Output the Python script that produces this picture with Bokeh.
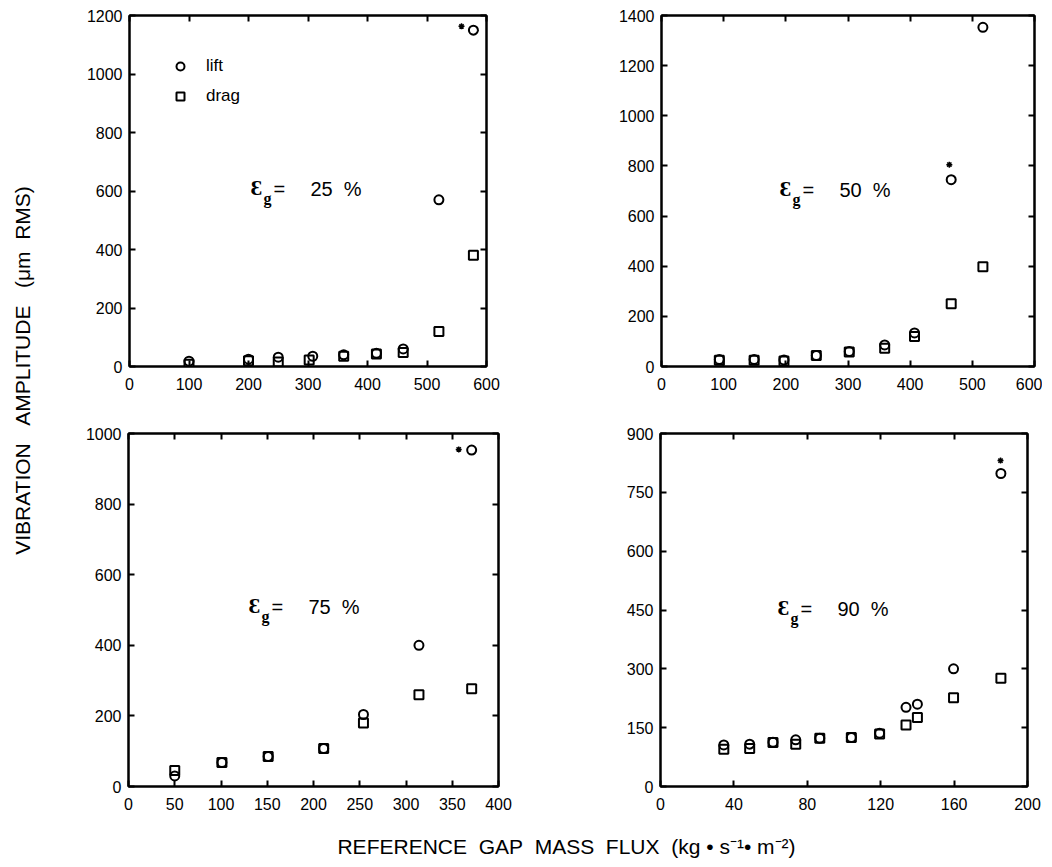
import math
from bokeh.plotting import figure
from bokeh.layouts import row, column
from bokeh.models import (Label, Legend, LegendItem, LinearAxis, FixedTicker,
                          CustomJSTickFormatter, Range1d)
from bokeh.embed import file_html
from bokeh.resources import INLINE

# ---------------- data ----------------
# void fraction 25 %
g25_flux_lift = [100, 200, 250, 308, 360, 415, 460, 520, 578]
g25_lift = [18, 25, 32, 35, 40, 45, 60, 570, 1150]
g25_flux_drag = [100, 200, 250, 302, 360, 415, 460, 520, 578]
g25_drag = [8, 20, 15, 22, 35, 43, 48, 120, 380]
g25_star_x = [558]
g25_star_y = [1163]

# void fraction 50 %
g50_flux = [93, 149, 197, 249, 302, 359, 407, 466, 517]
g50_lift = [28, 28, 26, 44, 60, 86, 134, 745, 1353]
g50_drag = [25, 25, 22, 44, 58, 73, 120, 250, 398]
g50_star_x = [463]
g50_star_y = [805]

# void fraction 75 %
g75_flux = [50, 101, 151, 211, 254, 314, 371]
g75_lift = [30, 68, 85, 108, 204, 400, 953]
g75_drag = [45, 68, 85, 108, 180, 260, 277]
g75_star_x = [357]
g75_star_y = [955]

# void fraction 90 %
g90_flux = [34.5, 48.6, 61.3, 73.7, 86.8, 104, 119.4, 133.8, 140, 159.7, 185.5]
g90_lift = [106, 108, 113, 119, 123, 125, 136, 202, 210, 300, 798]
g90_drag = [95, 97, 112, 108, 123, 125, 134, 157, 176, 226, 276]
g90_star_x = [185.3]
g90_star_y = [831]

x_ticks_25 = [0, 100, 200, 300, 400, 500, 600]
y_ticks_25 = [0, 200, 400, 600, 800, 1000, 1200]
x_ticks_50 = [0, 100, 200, 300, 400, 500, 600]
y_ticks_50 = [0, 200, 400, 600, 800, 1000, 1200, 1400]
x_ticks_75 = [0, 50, 100, 150, 200, 250, 300, 350, 400]
y_ticks_75 = [0, 200, 400, 600, 800, 1000]
x_ticks_90 = [0, 40, 80, 120, 160, 200]
y_ticks_90 = [0, 150, 300, 450, 600, 750, 900]

void_labels = ["25 %", "50 %", "75 %", "90 %"]

FONT = "Liberation Sans"
SERIF = "Liberation Serif"
NB = "\u00a0"


def style_axis(ax, ticks, show_labels, side):
    ax.ticker = FixedTicker(ticks=ticks)
    ax.axis_line_color = "black"
    ax.axis_line_width = 2
    ax.major_tick_in = 6
    ax.major_tick_out = 0
    ax.major_tick_line_width = 2
    ax.major_tick_line_color = "black"
    ax.minor_tick_line_color = None
    if show_labels:
        ax.major_label_text_font = FONT
        ax.major_label_text_font_size = "16px"
        ax.major_label_text_color = "black"
        ax.major_label_standoff = 11 if side == "x" else 7
    else:
        ax.formatter = CustomJSTickFormatter(code="return ''")
        ax.major_label_text_font_size = "0px"
        ax.major_label_standoff = 0


def make_panel(width, height, bl, br, bt, bb, xr, yr, xticks, yticks):
    p = figure(width=width, height=height,
               x_range=Range1d(*xr), y_range=Range1d(*yr),
               output_backend="svg", toolbar_location=None,
               min_border_left=bl, min_border_right=br,
               min_border_top=bt, min_border_bottom=bb)
    p.xgrid.visible = False
    p.ygrid.visible = False
    p.outline_line_color = "black"
    p.outline_line_width = 2
    p.background_fill_color = "white"
    p.border_fill_color = "white"
    style_axis(p.xaxis[0], xticks, True, "x")
    style_axis(p.yaxis[0], yticks, True, "y")
    top = LinearAxis()
    style_axis(top, xticks, False, "x")
    p.add_layout(top, "above")
    right = LinearAxis()
    style_axis(right, yticks, False, "y")
    p.add_layout(right, "right")
    return p


def add_points(p, fx_l, yl, fx_d, yd, sx, sy):
    rl = p.scatter(fx_l, yl, marker="circle", size=9, fill_color=None,
                   line_color="black", line_width=2)
    rd = p.scatter(fx_d, yd, marker="square", size=9, fill_color=None,
                   line_color="black", line_width=2)
    p.scatter(sx, sy, marker="asterisk", size=6, line_color="black", line_width=1.5)
    return rl, rd


def add_eps(p, label, dx, dy):
    p.add_layout(Label(x=dx, y=dy, x_units="screen", y_units="screen", text="Ɛ",
                       text_font=SERIF, text_font_size="22px", text_font_style="bold",
                       text_color="black"))
    p.add_layout(Label(x=dx + 13, y=dy - 7, x_units="screen", y_units="screen", text="g",
                       text_font=SERIF, text_font_size="16px", text_font_style="bold",
                       text_color="black"))
    p.add_layout(Label(x=dx + 23, y=dy, x_units="screen", y_units="screen", text="=",
                       text_font=FONT, text_font_size="20px", text_color="black"))
    p.add_layout(Label(x=dx + 60, y=dy, x_units="screen", y_units="screen",
                       text=label.replace(" ", NB + NB),
                       text_font=FONT, text_font_size="20px", text_color="black"))


# ---------------- panels ----------------
p1 = make_panel(458, 408, 81, 20, 15, 39, (0, 600), (0, 1200), x_ticks_25, y_ticks_25)
r_lift, r_drag = add_points(p1, g25_flux_lift, g25_lift, g25_flux_drag, g25_drag,
                            g25_star_x, g25_star_y)
add_eps(p1, void_labels[0], 121, 167)
legend = Legend(items=[LegendItem(label="lift", renderers=[r_lift]),
                       LegendItem(label="drag", renderers=[r_drag])],
                location=(41, 260), padding=0, margin=0, spacing=10,
                glyph_width=20, glyph_height=20, label_height=20,
                label_standoff=16, label_text_color="black",
                label_text_font=FONT, label_text_font_size="17px",
                border_line_color=None, background_fill_alpha=0)
p1.add_layout(legend, "center")

p2 = make_panel(536, 408, 155, 8, 13, 42, (0, 600), (0, 1400), x_ticks_50, y_ticks_50)
add_points(p2, g50_flux, g50_lift, g50_flux, g50_drag, g50_star_x, g50_star_y)
add_eps(p2, void_labels[1], 118, 166)

p3 = make_panel(470, 410, 80, 20, 23, 32, (0, 400), (0, 1000), x_ticks_75, y_ticks_75)
add_points(p3, g75_flux, g75_lift, g75_flux, g75_drag, g75_star_x, g75_star_y)
add_eps(p3, void_labels[2], 120, 169)

p4 = make_panel(524, 410, 142, 15, 25, 32, (0, 200), (0, 900), x_ticks_90, y_ticks_90)
add_points(p4, g90_flux, g90_lift, g90_flux, g90_drag, g90_star_x, g90_star_y)
add_eps(p4, void_labels[3], 117, 167)


def blank(width, height):
    f = figure(width=width, height=height, x_axis_type=None, y_axis_type=None,
               output_backend="svg", toolbar_location=None,
               min_border=0, min_border_left=0, min_border_right=0,
               min_border_top=0, min_border_bottom=0)
    f.outline_line_color = None
    f.xgrid.visible = False
    f.ygrid.visible = False
    f.background_fill_color = "white"
    f.border_fill_color = "white"
    return f


G3 = NB * 3
G2 = NB * 2
ylab = blank(48, 818)
ylab.add_layout(Label(x=22, y=818 - 370, x_units="screen", y_units="screen",
                      text="VIBRATION" + G3 + "AMPLITUDE" + G3 + "(μm" + NB + NB + "RMS)",
                      angle=math.pi / 2,
                      text_align="center", text_baseline="middle",
                      text_font=FONT, text_font_size="21px", text_color="black"))

xlab = blank(1042, 46)
xlab.add_layout(Label(x=566, y=46 - 28, x_units="screen", y_units="screen",
                      text="REFERENCE" + G2 + "GAP" + G2 + "MASS" + G2 + "FLUX" + G2
                           + "(kg" + NB + "•" + NB + "s⁻¹•" + NB + "m⁻²)",
                      text_align="center", text_baseline="middle",
                      text_font=FONT, text_font_size="21px", text_color="black"))

layout = column(row(ylab, column(row(p1, p2), row(p3, p4))), xlab)

open("out.html", "w").write(file_html(layout, INLINE))
